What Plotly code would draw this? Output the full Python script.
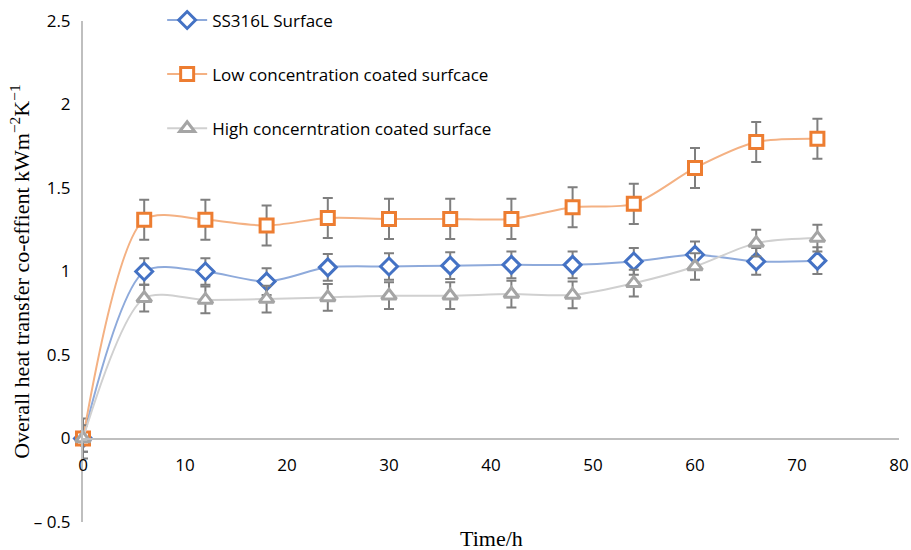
import plotly.graph_objects as go

time_h = [0, 6, 12, 18, 24, 30, 36, 42, 48, 54, 60, 66, 72]
ss316l = [0, 1.00, 1.00, 0.94, 1.025, 1.03, 1.035, 1.04, 1.04, 1.06, 1.10, 1.06, 1.065]
low_conc = [0, 1.31, 1.31, 1.275, 1.32, 1.315, 1.315, 1.315, 1.385, 1.405, 1.62, 1.775, 1.795]
high_conc = [0, 0.84, 0.83, 0.835, 0.845, 0.855, 0.855, 0.865, 0.86, 0.93, 1.03, 1.17, 1.20]
err_ss = [0.08, 0.08, 0.08, 0.08, 0.08, 0.08, 0.08, 0.08, 0.08, 0.08, 0.08, 0.08, 0.08]
err_low = [0.12, 0.12, 0.12, 0.12, 0.12, 0.12, 0.12, 0.12, 0.12, 0.12, 0.12, 0.12, 0.12]
err_high = [0.08, 0.08, 0.08, 0.08, 0.08, 0.08, 0.08, 0.08, 0.08, 0.08, 0.08, 0.08, 0.08]

series_names = ["SS316L Surface", "Low concentration coated surfcace", "High concerntration coated surface"]
y_tickvals = [-0.5, 0, 0.5, 1, 1.5, 2, 2.5]
y_ticktext = ["\u2013 0.5", "0", "0.5", "1", "1.5", "2", "2.5"]
x_tickvals = [0, 10, 20, 30, 40, 50, 60, 70, 80]

W, H = 911, 550
ml, mr, mt, mb = 83, 12, 21, 28

fig = go.Figure()

specs = [
    (ss316l, err_ss, "#8eaadb", "#4472c4", "diamond", 13),
    (low_conc, err_low, "#f4b183", "#ed7d31", "square", 13),
    (high_conc, err_high, "#d0d0d0", "#a5a5a5", "triangle-up", 13),
]
for i, (vals, errs, lc, mc, sym, sz) in enumerate(specs):
    fig.add_trace(go.Scatter(
        x=time_h, y=vals, name=series_names[i], mode="lines+markers",
        legendgroup=f"g{i}",
        line=dict(color=lc, width=2, shape="spline", smoothing=0.8),
        marker=dict(symbol=sym, size=sz, color="white", line=dict(color=mc, width=3)),
        error_y=dict(type="data", array=errs, color="#7f7f7f", thickness=2, width=5),
        cliponaxis=False,
    ))

font_tick = dict(family="Open Sans, sans-serif", size=17, color="#000000")

fig.update_layout(
    width=W, height=H,
    margin=dict(l=ml, r=mr, t=mt, b=mb, autoexpand=False),
    paper_bgcolor="white", plot_bgcolor="white",
    showlegend=True,
    legend=dict(x=0.097, y=1.037, xanchor="left", yanchor="top",
                font=dict(family="Open Sans, sans-serif", size=17, color="#000"),
                tracegroupgap=29, bgcolor="rgba(0,0,0,0)", itemwidth=40),
    xaxis=dict(range=[0, 80], tickvals=x_tickvals, showgrid=False, zeroline=False,
               showline=True, linecolor="#bfbfbf", linewidth=2, automargin=False,
               anchor="free", position=1/6, ticks="", tickfont=font_tick,
               ticklabelstandoff=11),
    yaxis=dict(range=[-0.5, 2.5], tickvals=y_tickvals, ticktext=y_ticktext,
               showgrid=False, zeroline=False, showline=True, linecolor="#bfbfbf",
               linewidth=2, ticks="", tickfont=font_tick, ticklabelstandoff=7,
               automargin=False),
    annotations=[
        dict(text="Time/h", xref="paper", yref="paper", x=0.5, y=-0.062,
             xanchor="center", yanchor="bottom", showarrow=False,
             font=dict(family="Liberation Serif, Times New Roman, serif", size=22, color="#000")),
        dict(text="Overall heat transfer co-effient kWm<sup>\u22122</sup>K<sup>\u22121</sup>",
             xref="paper", yref="paper", x=-0.078, y=0.5, xanchor="center", yanchor="middle",
             textangle=-90, showarrow=False,
             font=dict(family="Liberation Serif, Times New Roman, serif", size=22, color="#000")),
    ],
)

fig.write_html("out.html")
